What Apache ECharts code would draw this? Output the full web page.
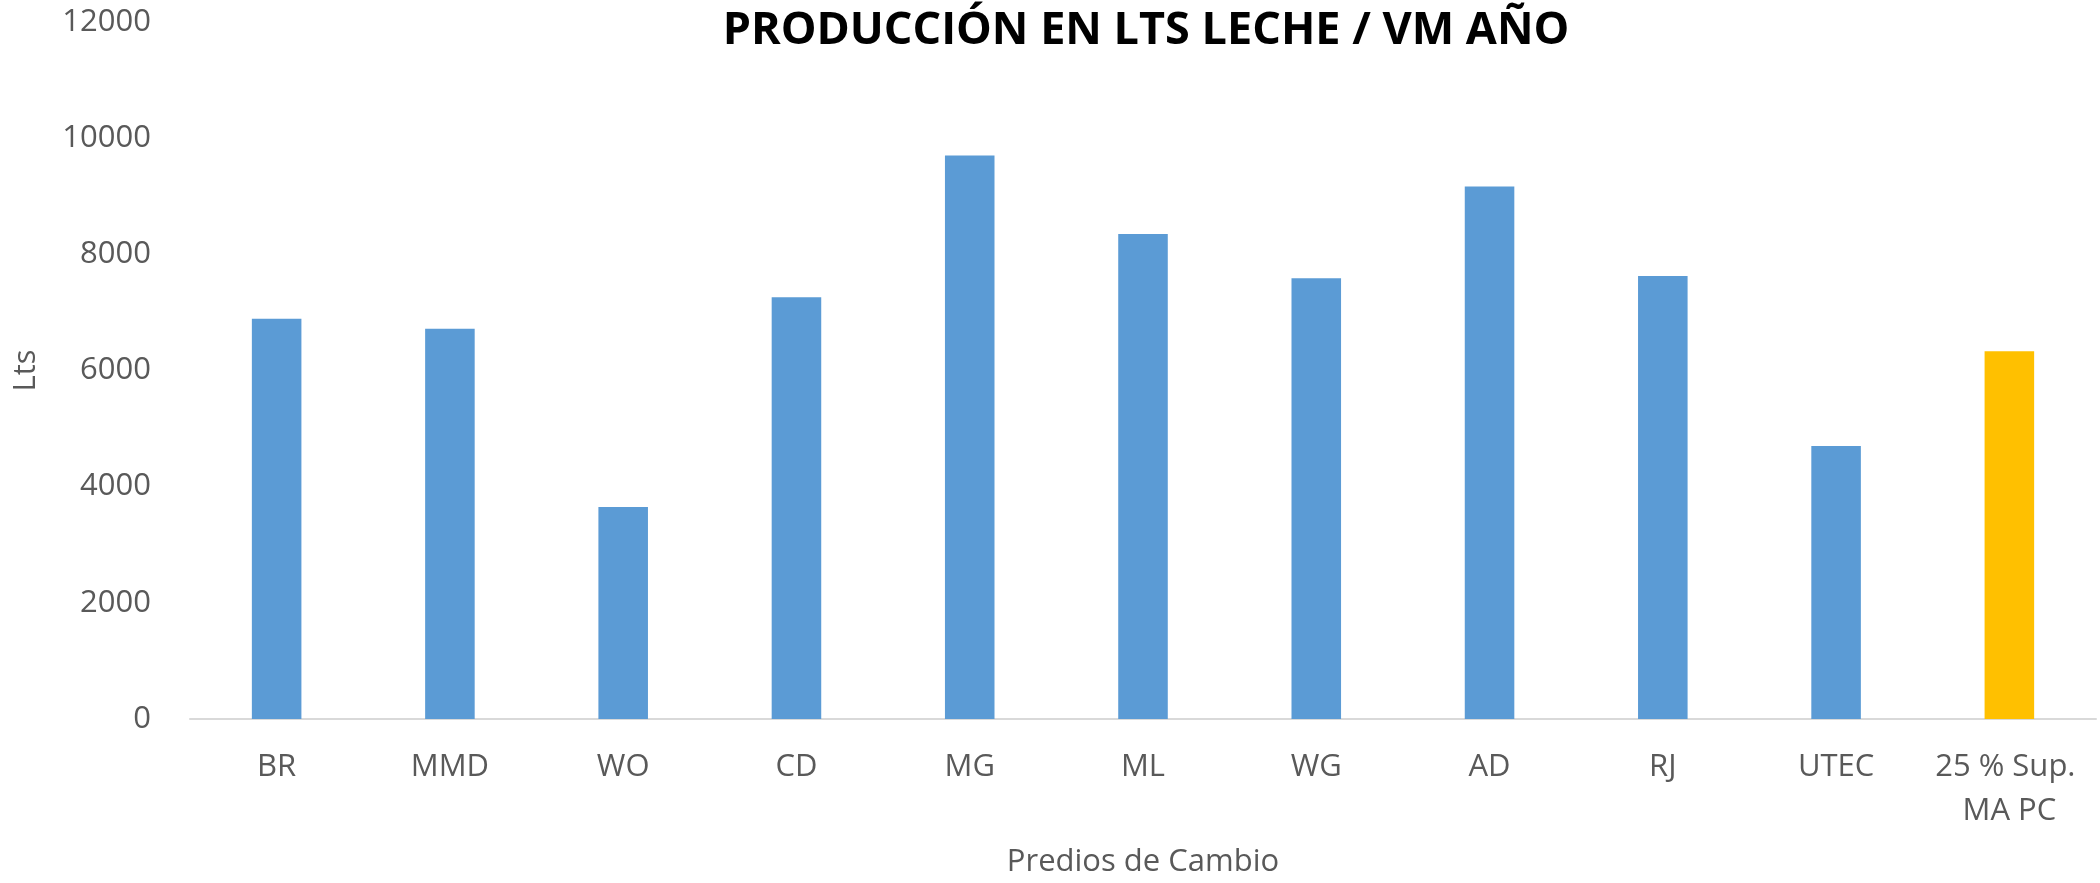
<!DOCTYPE html>
<html>
<head>
<meta charset="utf-8" />
<script src="https://cdn.jsdelivr.net/npm/echarts@6/dist/echarts.min.js"></script>
<style>
  html, body { margin: 0; padding: 0; background: #fff; }
  #chart { width: 2100px; height: 883px; }
</style>
</head>
<body>
<div id="chart"></div>
<script>
const categories = ['BR', 'MMD', 'WO', 'CD', 'MG', 'ML', 'WG', 'AD', 'RJ', 'UTEC', '25 % Sup. MA PC'];
const production = [6890, 6720, 3650, 7260, 9700, 8350, 7590, 9170, 7625, 4700, 6330];
// last bar is the reference (highlighted)
const highlightIndex = 10;
const yTicks = [0, 2000, 4000, 6000, 8000, 10000, 12000];

const textColor = '#595959';
const font = '"Open Sans", "Noto Sans", sans-serif';

const chartDom = document.getElementById('chart');
const chart = echarts.init(chartDom);

const option = {
  animation: false,
  textStyle: { fontFamily: font },
  title: {
    text: 'PRODUCCIÓN EN LTS LECHE / VM AÑO',
    left: 1141,
    top: 4,
    textAlign: 'center',
    textStyle: { fontFamily: font, fontSize: 45, fontWeight: 'bold', color: '#000' },
  },
  grid: { left: 190, right: 4, top: 22, bottom: 164 },
  xAxis: {
    type: 'category',
    data: categories,
    name: 'Predios de Cambio',
    nameLocation: 'middle',
    nameGap: 128,
    nameTextStyle: { fontFamily: font, fontSize: 31, color: textColor },
    axisLine: { lineStyle: { color: '#d9d9d9', width: 2 } },
    axisTick: { show: false },
    axisLabel: {
      interval: 0,
      margin: 26,
      fontSize: 31,
      lineHeight: 44,
      color: textColor,
      width: 165,
      overflow: 'break',
    },
  },
  yAxis: {
    type: 'value',
    min: yTicks[0],
    max: yTicks[yTicks.length - 1],
    interval: 2000,
    name: 'Lts',
    nameLocation: 'middle',
    nameGap: 148,
    nameTextStyle: { fontFamily: font, fontSize: 31, color: textColor },
    axisLine: { show: false },
    axisTick: { show: false },
    splitLine: { show: false },
    axisLabel: { margin: 39, fontSize: 31, color: textColor, formatter: (v) => String(v) },
  },
  series: [
    {
      type: 'bar',
      barWidth: '28.6%',
      data: production.map((v, i) => ({
        value: v,
        itemStyle: { color: i === highlightIndex ? '#ffc000' : '#5b9bd5' },
      })),
    },
  ],
};
chart.setOption(option);
</script>
</body>
</html>
